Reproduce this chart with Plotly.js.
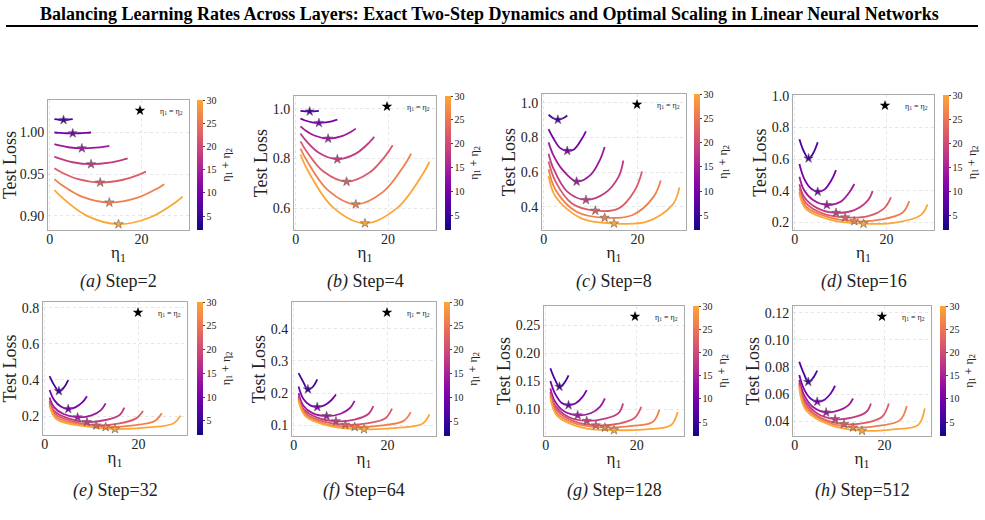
<!DOCTYPE html>
<html><head><meta charset="utf-8">
<script src="https://cdn.plot.ly/plotly-3.0.1.min.js"></script>
<style>html,body{margin:0;padding:0;background:#fff}</style>
</head><body><div id="chart" style="width:985px;height:520px"></div>
<script>
// ---------------- DATA ----------------
const figTitle = 'Balancing Learning Rates Across Layers: Exact Two-Step Dynamics and Optimal Scaling in Linear Neural Networks';
const steps = [2, 4, 8, 16, 32, 64, 128, 512];
const letters = ['a', 'b', 'c', 'd', 'e', 'f', 'g', 'h'];
const sums = [6, 10, 14, 18, 22, 26, 30];   // eta1 + eta2

const eta1_S6  = [1, 2, 3, 4, 5];
const eta1_S10 = [1, 2, 3.5, 5, 6.5, 8, 9];
const eta1_S14 = [1, 2, 4, 7, 10, 12, 13];
const eta1_S18 = [1, 2, 5, 9, 13, 16, 17];
const eta1_S22 = [1, 2.5, 6, 11, 16, 19.5, 21];
const eta1_S26 = [1, 2.5, 7, 13, 19, 23.5, 25];
const eta1_S30 = [1, 2.5, 8, 15, 22, 27.5, 29];
const eta1Grid = [eta1_S6, eta1_S10, eta1_S14, eta1_S18, eta1_S22, eta1_S26, eta1_S30];

const loss_step2 = [
  [1.016, 1.0153, 1.015, 1.0153, 1.016],
  [1.000, 0.9996, 0.9991, 0.999, 0.9991, 0.9996, 1.000],
  [0.986, 0.9845, 0.9823, 0.981, 0.9818, 0.9831, 0.984],
  [0.971, 0.9689, 0.9643, 0.962, 0.9638, 0.9674, 0.969],
  [0.957, 0.9523, 0.9443, 0.940, 0.9433, 0.9494, 0.953],
  [0.944, 0.9374, 0.923, 0.916, 0.9215, 0.9329, 0.938],
  [0.931, 0.9227, 0.9003, 0.890, 0.8983, 0.9163, 0.923]
];
const loss_step4 = [
  [0.991, 0.9895, 0.989, 0.9895, 0.991],
  [0.960, 0.9526, 0.9454, 0.943, 0.9448, 0.9503, 0.956],
  [0.929, 0.914, 0.8923, 0.880, 0.890, 0.9078, 0.920],
  [0.900, 0.8759, 0.8228, 0.797, 0.8195, 0.8659, 0.887],
  [0.869, 0.824, 0.7475, 0.707, 0.7435, 0.8125, 0.853],
  [0.840, 0.7876, 0.672, 0.616, 0.667, 0.7723, 0.820],
  [0.816, 0.755, 0.605, 0.540, 0.6018, 0.7369, 0.787]
];
const loss_step8 = [
  [0.932, 0.912, 0.903, 0.910, 0.928],
  [0.849, 0.797, 0.739, 0.723, 0.733, 0.787, 0.836],
  [0.772, 0.700, 0.613, 0.545, 0.584, 0.671, 0.745],
  [0.706, 0.623, 0.487, 0.439, 0.477, 0.574, 0.667],
  [0.661, 0.545, 0.419, 0.377, 0.390, 0.497, 0.603],
  [0.617, 0.497, 0.371, 0.336, 0.352, 0.458, 0.551],
  [0.578, 0.458, 0.332, 0.303, 0.313, 0.410, 0.512]
];
const loss_step16 = [
  [0.726, 0.647, 0.605, 0.637, 0.707],
  [0.569, 0.479, 0.415, 0.394, 0.409, 0.468, 0.531],
  [0.489, 0.405, 0.341, 0.310, 0.331, 0.394, 0.443],
  [0.441, 0.363, 0.289, 0.261, 0.278, 0.341, 0.398],
  [0.415, 0.320, 0.257, 0.232, 0.240, 0.289, 0.358],
  [0.394, 0.299, 0.236, 0.208, 0.219, 0.261, 0.335],
  [0.379, 0.282, 0.215, 0.192, 0.198, 0.246, 0.314]
];
const loss_step32 = [
  [0.421, 0.371, 0.338, 0.356, 0.399],
  [0.344, 0.288, 0.251, 0.239, 0.248, 0.275, 0.310],
  [0.303, 0.248, 0.211, 0.193, 0.204, 0.233, 0.270],
  [0.285, 0.229, 0.187, 0.167, 0.178, 0.206, 0.246],
  [0.274, 0.206, 0.169, 0.148, 0.159, 0.187, 0.228],
  [0.264, 0.193, 0.156, 0.139, 0.148, 0.172, 0.215],
  [0.255, 0.182, 0.145, 0.128, 0.137, 0.159, 0.202]
];
const loss_step64 = [
  [0.262, 0.235, 0.212, 0.219, 0.243],
  [0.221, 0.183, 0.162, 0.157, 0.162, 0.178, 0.196],
  [0.200, 0.162, 0.138, 0.129, 0.136, 0.154, 0.176],
  [0.190, 0.152, 0.124, 0.113, 0.118, 0.136, 0.160],
  [0.185, 0.138, 0.113, 0.102, 0.107, 0.121, 0.152],
  [0.180, 0.133, 0.103, 0.095, 0.100, 0.114, 0.141],
  [0.176, 0.128, 0.097, 0.088, 0.092, 0.105, 0.134]
];
const loss_step128 = [
  [0.173, 0.153, 0.140, 0.146, 0.160],
  [0.150, 0.128, 0.111, 0.107, 0.110, 0.121, 0.134],
  [0.137, 0.114, 0.096, 0.089, 0.093, 0.105, 0.119],
  [0.131, 0.107, 0.086, 0.079, 0.083, 0.093, 0.110],
  [0.127, 0.097, 0.079, 0.071, 0.074, 0.084, 0.104],
  [0.123, 0.092, 0.073, 0.067, 0.070, 0.077, 0.099],
  [0.120, 0.088, 0.067, 0.0625, 0.064, 0.071, 0.095]
];
const loss_step512 = [
  [0.0838, 0.0752, 0.069, 0.0715, 0.0772],
  [0.074, 0.064, 0.0567, 0.0543, 0.0555, 0.0604, 0.0661],
  [0.0703, 0.0597, 0.0506, 0.0464, 0.0481, 0.0518, 0.0567],
  [0.0683, 0.0567, 0.0457, 0.0415, 0.0427, 0.0469, 0.0530],
  [0.0671, 0.0518, 0.0420, 0.0378, 0.0388, 0.0432, 0.0530],
  [0.0658, 0.0501, 0.0395, 0.0353, 0.0366, 0.0407, 0.0511],
  [0.0646, 0.0481, 0.0370, 0.0329, 0.0339, 0.0370, 0.0494]
];
const lossByStep = [loss_step2, loss_step4, loss_step8, loss_step16, loss_step32, loss_step64, loss_step128, loss_step512];

const yTicks = [
  [0.90, 0.95, 1.00], [0.6, 0.8, 1.0], [0.4, 0.6, 0.8, 1.0], [0.2, 0.4, 0.6, 0.8, 1.0],
  [0.2, 0.4, 0.6, 0.8], [0.1, 0.2, 0.3, 0.4], [0.10, 0.15, 0.20, 0.25], [0.04, 0.06, 0.08, 0.10, 0.12]
];
const yTickFmt = ['.2f', '.1f', '.1f', '.1f', '.1f', '.1f', '.2f', '.2f'];
const xTicks = [0, 20];
const cbTicks = [5, 10, 15, 20, 25, 30];

// ---------------- STYLE / LAYOUT ----------------
const W = 985, H = 520;
const yRanges = [[0.883, 1.039], [0.513, 1.051], [0.265, 1.052], [0.152, 1.006],
                 [0.095, 0.831], [0.067, 0.483], [0.052, 0.284], [0.029, 0.125]];
// plot boxes in pixels: left, right, top, bottom
const boxes = [[48, 189, 100, 230], [294, 436, 96, 230], [542, 686, 94, 230], [793, 934, 95, 230],
               [43, 187, 302, 435], [292, 436, 302, 436], [544, 684, 306, 436], [793, 931, 306, 436]];
const cbLeft = [197, 445, 694, 943, 197, 444, 693, 940];

const plasma = ['#0d0887', '#41049d', '#6a00a8', '#8f0da4', '#b12a90', '#cc4778', '#e16462', '#f2844b', '#fca636'];
const colorscale = plasma.map((c, i) => [i / (plasma.length - 1), c]);
const CMIN = 2, CMAX = 30;
function hex2rgb(h) { return [1, 3, 5].map(k => parseInt(h.substr(k, 2), 16)); }
function colorFor(v) {
  let t = (v - CMIN) / (CMAX - CMIN); t = Math.max(0, Math.min(1, t));
  const pos = t * (plasma.length - 1); const i = Math.min(Math.floor(pos), plasma.length - 2); const f = pos - i;
  const a = hex2rgb(plasma[i]), b = hex2rgb(plasma[i + 1]);
  const c = a.map((x, k) => Math.round(x + (b[k] - x) * f));
  return `rgb(${c[0]},${c[1]},${c[2]})`;
}

const SERIF = 'Liberation Serif, Times New Roman, serif';
const px = x => x / W, py = y => 1 - y / H;

const traces = [];
const layout = {
  width: W, height: H, margin: {l: 0, r: 0, t: 0, b: 0},
  paper_bgcolor: '#fff', plot_bgcolor: '#fff',
  font: {family: SERIF, color: '#222'},
  showlegend: true,
  annotations: [], shapes: []
};

lossByStep.forEach((panel, p) => {
  const sfx = p === 0 ? '' : String(p + 1);
  const xa = 'x' + sfx, ya = 'y' + sfx;
  const legName = p === 0 ? 'legend' : 'legend' + (p + 1);
  const [L, R, T, B] = boxes[p];

  const starX = [], starY = [];
  panel.forEach((ys, k) => {
    const xs = eta1Grid[k];
    traces.push({
      type: 'scatter', mode: 'lines', x: xs, y: ys, xaxis: xa, yaxis: ya,
      line: {color: colorFor(sums[k]), width: 1.8, shape: 'spline', smoothing: 1},
      showlegend: false, hoverinfo: 'skip'
    });
    const idx = xs.indexOf(sums[k] / 2);
    starX.push(xs[idx]); starY.push(ys[idx]);
  });
  traces.push({
    type: 'scatter', mode: 'markers', x: starX, y: starY, xaxis: xa, yaxis: ya, showlegend: false,
    marker: {symbol: 'star', size: 7, color: sums, colorscale: colorscale, cmin: CMIN, cmax: CMAX,
      line: {color: '#666', width: 0.6}, showscale: true,
      colorbar: {x: px(cbLeft[p]), xanchor: 'left', y: py(T), yanchor: 'top', len: (B - T) / H, lenmode: 'fraction',
        thickness: 6, outlinewidth: 0, tickvals: cbTicks, ticks: 'outside', ticklen: 2, tickcolor: '#444',
        tickfont: {family: SERIF, size: 10, color: '#222'}, xpad: 0, ypad: 0,
        title: {text: 'η<sub>1</sub> + η<sub>2</sub>', side: 'right', font: {family: SERIF, size: 12, color: '#222'}}}
    }
  });
  // legend entry
  traces.push({
    type: 'scatter', mode: 'markers', x: [null], y: [null], xaxis: xa, yaxis: ya,
    name: 'η<sub>1</sub> = η<sub>2</sub>', legend: legName,
    marker: {symbol: 'star', size: 8, color: '#000'}, hoverinfo: 'skip'
  });
  layout[legName] = {x: px(R - 1), xanchor: 'right', y: py(T - 4), yanchor: 'top',
    bgcolor: 'rgba(0,0,0,0)', borderwidth: 0, itemwidth: 30,
    font: {family: SERIF, size: 8, color: '#222'}};

  layout['xaxis' + sfx] = {
    domain: [px(L), px(R)], anchor: ya, range: [-0.4, 30.4], tickvals: xTicks,
    showline: true, mirror: true, linecolor: '#aaa', linewidth: 1, ticks: '',
    showgrid: true, gridcolor: '#e6e6e6', griddash: 'dot', zeroline: false,
    tickfont: {family: SERIF, size: 14, color: '#222'}, automargin: false, ticklabelstandoff: -4,
    title: {text: 'η<sub>1</sub>', font: {family: SERIF, size: 17, color: '#222'}, standoff: 0}
  };
  layout['yaxis' + sfx] = {
    domain: [py(B), py(T)], anchor: xa, range: yRanges[p], tickvals: yTicks[p], tickformat: yTickFmt[p],
    showline: true, mirror: true, linecolor: '#aaa', linewidth: 1, ticks: '',
    showgrid: true, gridcolor: '#e6e6e6', griddash: 'dot', zeroline: false,
    tickfont: {family: SERIF, size: 14, color: '#222'}, automargin: false,
    title: {text: 'Test Loss', font: {family: SERIF, size: 18, color: '#222'}, standoff: 0}
  };
  layout.annotations.push({
    xref: 'paper', yref: 'paper', x: px((L + R) / 2), y: py(p < 4 ? 281 : 490), xanchor: 'center', yanchor: 'middle',
    text: `<i>(${letters[p]})</i> Step=${steps[p]}`, showarrow: false,
    font: {family: SERIF, size: 18, color: '#222'}
  });
});

layout.annotations.push({
  xref: 'paper', yref: 'paper', x: px(489), y: py(14), xanchor: 'center', yanchor: 'middle',
  text: '<b>' + figTitle + '</b>', showarrow: false, font: {family: SERIF, size: 18, color: '#000'}
});
layout.shapes.push({type: 'line', xref: 'paper', yref: 'paper', x0: px(6), x1: px(978), y0: py(26), y1: py(26),
  line: {color: '#000', width: 2}});

Plotly.newPlot('chart', traces, layout, {displayModeBar: false, staticPlot: true});
</script></body></html>
